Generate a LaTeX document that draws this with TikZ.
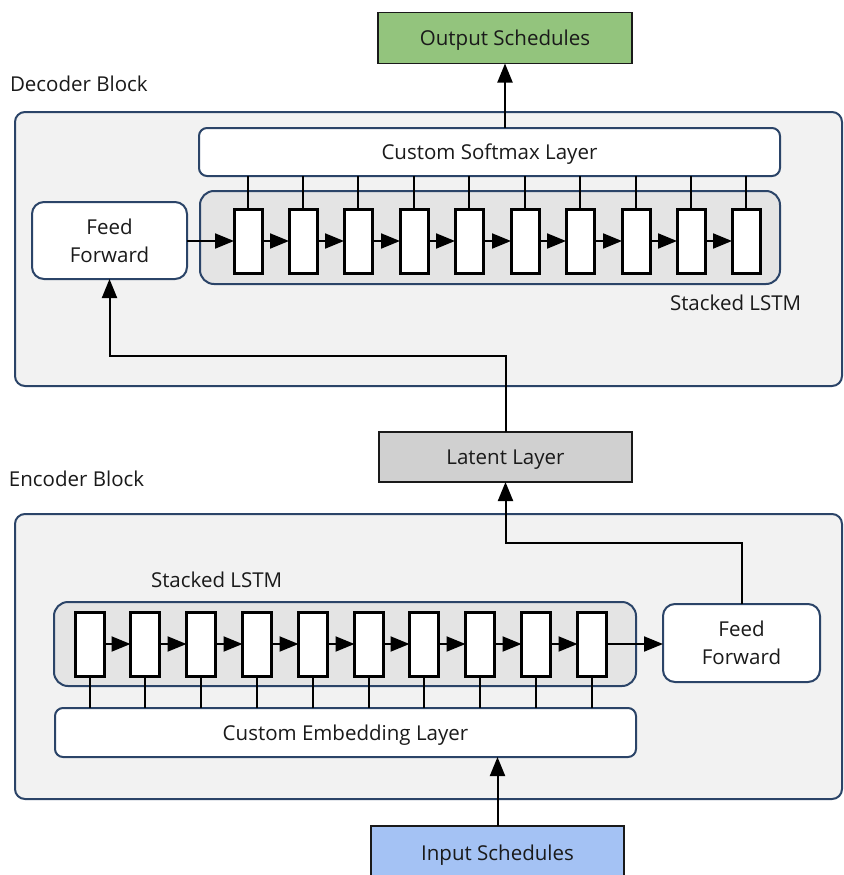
\documentclass[tikz,border=0pt]{standalone}
\usepackage{fontspec}
\setmainfont{Open Sans}
\usetikzlibrary{arrows.meta}
\definecolor{navy}{HTML}{2B4468}
\definecolor{blockfill}{HTML}{F2F2F2}
\definecolor{lstmfill}{HTML}{E4E4E4}
\definecolor{outgreen}{HTML}{93C47D}
\definecolor{inblue}{HTML}{A4C2F4}
\definecolor{latentgray}{HTML}{D0D0D0}
\definecolor{txt}{HTML}{1A1A1A}
\begin{document}
\begin{tikzpicture}[x=1pt,y=-1pt,
  font=\fontsize{20.5}{28}\selectfont,
  every node/.style={inner sep=0pt, outer sep=0pt, text=txt},
  block/.style={draw=navy, fill=blockfill, line width=2pt, rounded corners=10pt},
  lstmbg/.style={draw=navy, fill=lstmfill, line width=2pt, rounded corners=14pt},
  layer/.style={draw=navy, fill=white, line width=2pt, rounded corners=8pt, text height=15pt, text depth=0pt},
  ffbox/.style={draw=navy, fill=white, line width=2pt, rounded corners=12pt, align=center},
  iobox/.style={draw=txt, line width=1.5pt, text height=15pt, text depth=0pt},
  cell/.style={draw=black, fill=white, line width=3pt, minimum width=28pt, minimum height=64pt},
  conn/.style={draw=black, line width=2pt},
  arr/.style={conn, -{Triangle[length=19pt,width=15pt]}},
  label/.style={anchor=west}
]
\fill[white] (0,0) rectangle (843,875);
\useasboundingbox (0,0) rectangle (843,875);

% outer blocks
\node[block, minimum width=827pt, minimum height=274pt] (dec) at (428.5,249) {};
\node[block, minimum width=827pt, minimum height=285pt] (enc) at (428.5,656.5) {};
\node[label] (declbl) at (10,84) {Decoder Block};
\node[label] (enclbl) at (9,479) {Encoder Block};

% top and bottom boxes
\node[iobox, fill=outgreen, minimum width=254pt, minimum height=51pt] (out) at (505,38) {Output Schedules};
\node[iobox, fill=latentgray, minimum width=253pt, minimum height=50pt] (lat) at (505.5,457) {Latent Layer};
\node[iobox, fill=inblue, minimum width=253pt, minimum height=54pt] (in) at (497.5,853) {Input Schedules};

% decoder
\node[layer, minimum width=581pt, minimum height=48pt] (soft) at (489.5,152) {Custom Softmax Layer};
\node[lstmbg, minimum width=580pt, minimum height=93pt] (dlstm) at (490,237.5) {};
\node[ffbox, minimum width=155pt, minimum height=77pt] (dff) at (109.5,240.5) {Feed\\Forward};
\node[label] (dlbl) at (670,303) {Stacked LSTM};
\foreach \x [count=\i] in {248,303,358,414,469,525,580,636,691,746} {
  \node[cell] (dc\i) at (\x,241) {};
  \draw[conn] (dc\i.north) -- (dc\i.north |- soft.south);
}
\foreach \i [evaluate=\i as \j using int(\i+1)] in {1,...,9} {
  \draw[arr] (dc\i.east) -- (dc\j.west);
}
\draw[arr] (dc1.west -| dff.east) -- (dc1.west);

% encoder
\node[lstmbg, minimum width=582pt, minimum height=84pt] (elstm) at (345,644) {};
\node[layer, minimum width=581pt, minimum height=49pt] (emb) at (345.5,732.5) {Custom Embedding Layer};
\node[ffbox, minimum width=157pt, minimum height=78pt] (eff) at (741.5,643) {Feed\\Forward};
\node[label] (elbl) at (151,580) {Stacked LSTM};
\foreach \x [count=\i] in {90,145,201,257,313,369,424,480,536,592} {
  \node[cell, minimum width=29pt] (ec\i) at (\x,644) {};
  \draw[conn] (ec\i.south) -- (ec\i.south |- emb.north);
}
\foreach \i [evaluate=\i as \j using int(\i+1)] in {1,...,9} {
  \draw[arr] (ec\i.east) -- (ec\j.west);
}
\draw[arr] (ec10.east) -- (ec10.east -| eff.west);

% connections between the parts
\coordinate (outfoot) at (out.south |- soft.north);
\draw[arr] (outfoot) -- (out.south);
\coordinate (latturn) at (lat.north |- 0,356);
\draw[arr] (lat.north) -- (latturn) -| (dff.south);
\coordinate (effturn) at (eff.north |- 0,543);
\draw[arr] (eff.north) -- (effturn) -| (lat.south);
\coordinate (inhead) at (in.north |- emb.south);
\draw[arr] (in.north) -- (inhead);
\end{tikzpicture}
\end{document}
